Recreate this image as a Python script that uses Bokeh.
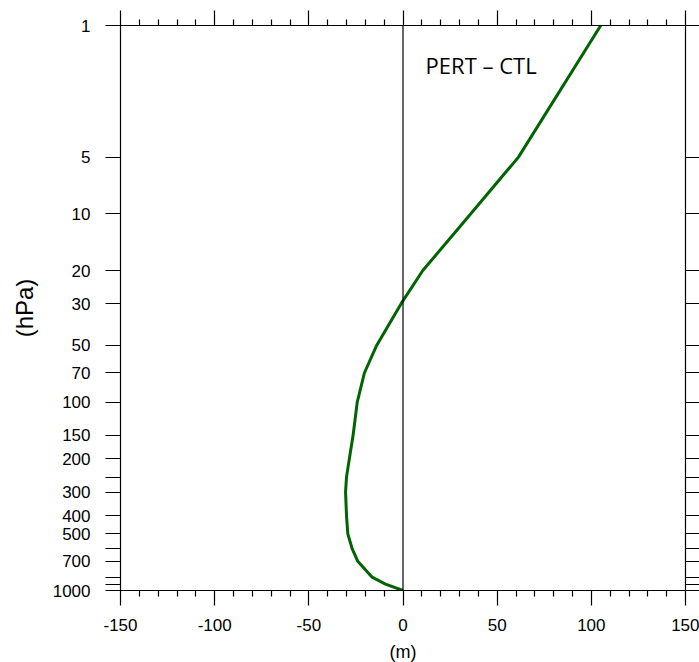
from bokeh.plotting import figure
from bokeh.models import (Range1d, FixedTicker, LinearAxis, LogAxis, Span, Label)
from bokeh.embed import file_html
from bokeh.resources import INLINE

# Data
pressure = [1000, 925, 850, 700, 600, 500, 400, 300, 250, 200, 150, 100, 70, 50, 30, 20, 10, 5, 1]
diff_m = [0, -9.3, -16.4, -24, -27, -29.3, -30, -30.5, -30, -28.5, -26.5, -24.3, -20.5, -14, -1, 10.5, 36, 61.3, 105]

y_ticks = [1, 5, 10, 20, 30, 50, 70, 100, 150, 200, 250, 300, 400, 500, 600, 700, 850, 925, 1000]
y_unlabeled = [250, 600, 850, 925]
x_major = [-150, -100, -50, 0, 50, 100, 150]
x_minor = [v for v in range(-150, 151, 10) if v % 50 != 0]

FONT = "Liberation Sans"

p = figure(frame_width=565, frame_height=565,
           x_range=Range1d(-150, 150), y_range=Range1d(1000, 1),
           y_axis_type="log", output_backend="svg", toolbar_location=None,
           min_border_left=120, min_border_top=25, min_border_right=14,
           min_border_bottom=72)
p.background_fill_color = "white"
p.border_fill_color = "white"
p.xgrid.visible = False
p.ygrid.visible = False
p.outline_line_color = "black"
p.outline_line_width = 1

y_over = {v: ("" if v in y_unlabeled else str(v)) for v in y_ticks}
x_over = {v: str(v) for v in x_major}


def style(ax):
    ax.axis_line_color = "black"
    ax.axis_line_width = 1.2
    ax.major_tick_line_color = "black"
    ax.minor_tick_line_color = "black"
    ax.major_tick_line_width = 1.2
    ax.minor_tick_line_width = 1.2
    ax.major_tick_in = 0
    ax.minor_tick_in = 0
    ax.major_label_text_font = FONT
    ax.major_label_text_color = "black"
    ax.major_label_text_font_size = "17px"
    ax.axis_label_text_font = FONT
    ax.axis_label_text_font_style = "normal"
    ax.axis_label_text_color = "black"


bx = p.xaxis[0]
bx.ticker = FixedTicker(ticks=x_major, minor_ticks=x_minor)
style(bx)
bx.major_tick_out = 15
bx.minor_tick_out = 6
bx.major_label_standoff = 13
bx.major_label_overrides = x_over
bx.axis_label = "(m)"
bx.axis_label_text_font_size = "18px"
bx.axis_label_standoff = 8

ly = p.yaxis[0]
ly.ticker = FixedTicker(ticks=y_ticks, minor_ticks=[])
style(ly)
ly.major_tick_out = 15
ly.minor_tick_out = 0
ly.major_label_standoff = 15
ly.major_label_overrides = y_over
ly.axis_label = "(hPa)"
ly.axis_label_text_font_size = "24px"
ly.axis_label_standoff = 12

tx = LinearAxis(ticker=FixedTicker(ticks=x_major, minor_ticks=x_minor))
style(tx)
tx.major_tick_out = 15
tx.minor_tick_out = 6
tx.major_label_standoff = 0
tx.major_label_overrides = {v: "" for v in x_major}
p.add_layout(tx, "above")

ry = LogAxis(ticker=FixedTicker(ticks=y_ticks, minor_ticks=[]))
style(ry)
ry.major_tick_out = 14
ry.minor_tick_out = 0
ry.major_label_standoff = 0
ry.major_label_overrides = {v: "" for v in y_ticks}
p.add_layout(ry, "right")

p.add_layout(Span(location=0, dimension="height", line_color="black", line_width=1.2))

p.line(diff_m, pressure, line_color="#006400", line_width=3)

p.add_layout(Label(x=12, y=1.62, text="PERT \u2013 CTL", text_font="Open Sans",
                   text_font_size="22px", text_color="black",
                   text_baseline="alphabetic"))

open("out.html", "w").write(file_html(p, INLINE))
